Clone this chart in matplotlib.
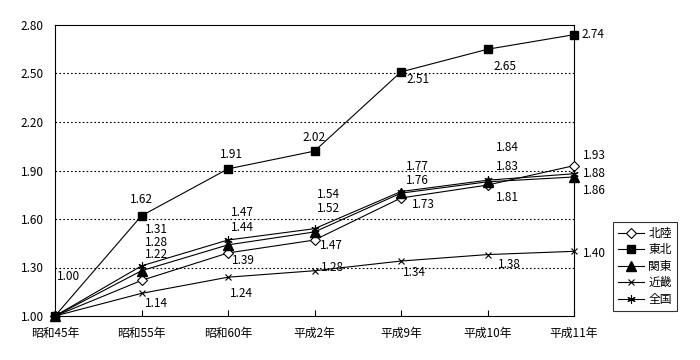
import matplotlib
matplotlib.use("Agg")
import matplotlib.pyplot as plt

plt.rcParams['font.family'] = ['Noto Sans CJK JP', 'DejaVu Sans']

categories = ['昭和45年', '昭和55年', '昭和60年', '平成2年', '平成9年', '平成10年', '平成11年']
hokuriku = [1.00, 1.22, 1.39, 1.47, 1.73, 1.81, 1.93]
tohoku = [1.00, 1.62, 1.91, 2.02, 2.51, 2.65, 2.74]
kanto = [1.00, 1.28, 1.44, 1.52, 1.76, 1.83, 1.86]
kinki = [1.00, 1.14, 1.24, 1.28, 1.34, 1.38, 1.40]
zenkoku = [1.00, 1.31, 1.47, 1.54, 1.77, 1.84, 1.88]
series_names = ['北陸', '東北', '関東', '近畿', '全国']
yticks = [1.00, 1.30, 1.60, 1.90, 2.20, 2.50, 2.80]

# label offsets in pixels (style only); None = no label
off_tohoku = [(13, 40), (0, 16), (3, 14), (0, 14), (17, -8), (17, -17), (19, 0)]
off_hokuriku = [None, (15, 25.5), (15, -8), (17, -5), (22, -7), (20, -12), (20, 10)]
off_kanto = [None, (15, 28), (14, 17), (14, 23), (16, 13), (20, 15), (20, -14)]
off_zenkoku = [None, (15, 36), (14, 28), (14, 34), (16, 25), (20, 33), (20, 0)]
off_kinki = [None, (15, -10), (13, -16), (18, 3), (13, -11), (22, -10), (20, -2)]

fig = plt.figure(figsize=(7, 3.6), dpi=100)
ax = fig.add_axes([55/700, 1-316/360, (574-55)/700, (316-25)/360])

x = list(range(len(categories)))
lw = 0.8
asterisk = (6, 2, 0)
styles = [
    (hokuriku, dict(marker='D', markersize=5, markerfacecolor='white', markeredgecolor='black', markeredgewidth=0.8), off_hokuriku),
    (tohoku, dict(marker='s', markersize=5.5, markerfacecolor='black', markeredgecolor='black'), off_tohoku),
    (kanto, dict(marker='^', markersize=6.5, markerfacecolor='black', markeredgecolor='black'), off_kanto),
    (kinki, dict(marker='x', markersize=4.5, markeredgecolor='black', markeredgewidth=0.8), off_kinki),
    (zenkoku, dict(marker=asterisk, markersize=6, markeredgecolor='black', markeredgewidth=0.8), off_zenkoku),
]
handles = []
for (vals, mk, offs), name in zip(styles, series_names):
    ln, = ax.plot(x, vals, color='black', linewidth=lw, clip_on=False, zorder=3, label=name, **mk)
    handles.append(ln)
    for i, (v, o) in enumerate(zip(vals, offs)):
        if o is None:
            continue
        ax.annotate(f'{v:.2f}', (i, v), xytext=o, textcoords='offset pixels',
                    ha='center', va='center', fontsize=8.5, zorder=4)

ax.set_xlim(0, len(categories) - 1)
ax.set_ylim(1.0, 2.8)
ax.set_yticks(yticks)
ax.set_yticklabels([f'{t:.2f}' for t in yticks], fontsize=8.5)
ax.set_xticks(x)
ax.set_xticklabels(categories, fontsize=8.5)
ax.tick_params(axis='y', length=0, pad=8)
ax.tick_params(axis='x', direction='in', length=4, width=0.8, pad=8)
for t in yticks[1:-1]:
    ax.axhline(t, color='black', linewidth=0.8, linestyle=(0, (1.5, 2)), zorder=1)
for s in ax.spines.values():
    s.set_linewidth(0.8)
    s.set_color('black')

leg = fig.legend(handles=handles, loc='upper left', bbox_to_anchor=(613/700, 1-222/360),
                 fontsize=8.5, frameon=True, fancybox=False, edgecolor='black',
                 handlelength=2.2, handletextpad=0.4, borderpad=0.4, labelspacing=0.3,
                 borderaxespad=0)
leg.get_frame().set_linewidth(0.8)

fig.savefig('out.png', dpi=100)
